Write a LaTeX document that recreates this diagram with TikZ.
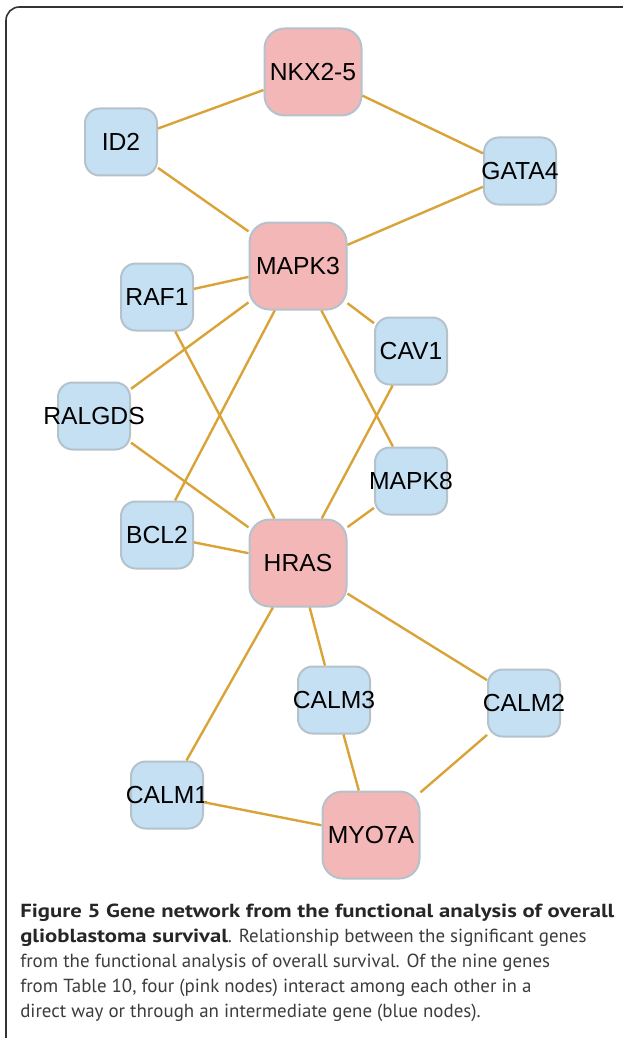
\documentclass[tikz,border=0pt]{standalone}
\usepackage{fontspec}
\setmainfont{Liberation Sans}
\newfontfamily\capfont{PT Sans}[BoldFeatures={FakeStretch=1.2}]
\definecolor{pinkfill}{RGB}{244,183,183}
\definecolor{bluefill}{RGB}{198,224,243}
\definecolor{genegray}{RGB}{180,194,204}
\definecolor{linkgold}{RGB}{217,163,56}
\definecolor{captext}{RGB}{60,60,60}
\newcommand{\genename}[1]{\makebox[0pt]{#1}}
\tikzset{
	gene/.style={draw=genegray, line width=1.5pt, inner sep=0pt, font=\fontsize{18.5}{21}\selectfont},
	pinkgene/.style={gene, fill=pinkfill, rounded corners=15pt, minimum width=72.75pt, minimum height=65.25pt},
	bluegene/.style={gene, fill=bluefill, rounded corners=11pt, minimum width=54pt, minimum height=50.25pt},
	link/.style={draw=linkgold, line width=1.8pt},
	capline/.style={anchor=base west, inner sep=0pt, text=captext, font=\capfont\fontsize{14.2}{16}\selectfont}
}

\begin{document}
\begin{tikzpicture}[x=0.75pt, y=-0.75pt]
		%%%%% START %%%%%
		\useasboundingbox (0, 0) rectangle (622, 1038);
		
		\draw[line width=1.2pt, color=black!80, rounded corners=10pt] (6, 1045) -- (6, 7) -- (630, 7);
		
		\node[pinkgene] (nkx) at (313, 72) {\genename{NKX2-5}};
		\node[bluegene] (id2) at (121, 142) {\genename{ID2}};
		\node[bluegene] (gata) at (520, 171) {\genename{GATA4}};
		\node[pinkgene] (mapk3) at (298, 266) {\genename{MAPK3}};
		\node[bluegene] (raf) at (157, 297) {\genename{RAF1}};
		\node[bluegene] (cav) at (411, 351) {\genename{CAV1}};
		\node[bluegene] (ralgds) at (94, 416) {\genename{RALGDS}};
		\node[bluegene] (mapk8) at (411, 481) {\genename{MAPK8}};
		\node[bluegene] (bcl) at (157, 535) {\genename{BCL2}};
		\node[pinkgene] (hras) at (298, 563) {\genename{HRAS}};
		\node[bluegene] (calm3) at (334, 700) {\genename{CALM3}};
		\node[bluegene] (calm2) at (524, 703) {\genename{CALM2}};
		\node[bluegene] (calm1) at (167, 795) {\genename{CALM1}};
		\node[pinkgene] (myo) at (371, 835) {\genename{MYO7A}};
		
		% links
		\draw[link] (nkx) -- (id2);
		\draw[link] (nkx) -- (gata);
		\draw[link] (id2) -- (mapk3);
		\draw[link] (gata) -- (mapk3);
		\draw[link] (mapk3) -- (raf);
		\draw[link] (mapk3) -- (ralgds);
		\draw[link] (mapk3) -- (bcl);
		\draw[link] (mapk3) -- (cav);
		\draw[link] (mapk3) -- (mapk8);
		\draw[link] (raf) -- (hras);
		\draw[link] (ralgds) -- (hras);
		\draw[link] (bcl) -- (hras);
		\draw[link] (cav) -- (hras);
		\draw[link] (mapk8) -- (hras);
		\draw[link] (hras) -- (calm3);
		\draw[link] (hras) -- (calm2);
		\draw[link] (hras) -- (calm1);
		\draw[link] (calm3) -- (myo);
		\draw[link] (calm2) -- (myo);
		\draw[link] (calm1) -- (myo);
		
		% caption
		\node[capline] (cap1) at (20, 917) {\textbf{\color{black!85}Figure 5 Gene network from the functional analysis of overall}};
		\node[capline] (cap2) at (20, 942) {\textbf{\color{black!85}glioblastoma survival}. Relationship between the significant genes};
		\node[capline] (cap3) at (20, 967) {from the functional analysis of overall survival. Of the nine genes};
		\node[capline] (cap4) at (20, 992) {from Table 10, four (pink nodes) interact among each other in a};
		\node[capline] (cap5) at (20, 1017) {direct way or through an intermediate gene (blue nodes).};
		%%%%% END %%%%%
\end{tikzpicture}
\end{document}
